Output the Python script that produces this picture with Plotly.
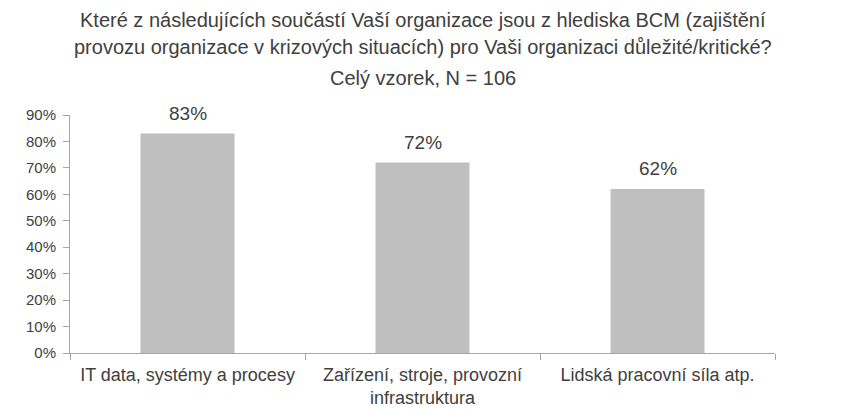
import plotly.graph_objects as go

categories = ["IT data, systémy a procesy", "Zařízení, stroje, provozní<br>infrastruktura", "Lidská pracovní síla atp."]
values = [0.83, 0.72, 0.62]
labels = ["83%", "72%", "62%"]
title_lines = ["Které z následujících součástí Vaší organizace jsou z hlediska BCM (zajištění",
               "provozu organizace v krizových situacích) pro Vaši organizaci důležité/kritické?"]
subtitle = "Celý vzorek, N = 106"

FONT = "Liberation Sans, Arial, sans-serif"
TXT = "#404040"

fig = go.Figure(go.Bar(
    x=categories, y=values,
    marker=dict(color="#bfbfbf", line=dict(width=0)),
    width=0.4,
))

anns = []
for c, v, t in zip(categories, values, labels):
    anns.append(dict(text=t, x=c, y=v, xref="x", yref="y", showarrow=False,
                     yanchor="bottom", yshift=8,
                     font=dict(size=19, color=TXT, family=FONT)))
for line, shift in zip(title_lines, [95, 68]):
    anns.append(dict(text=line, x=0.5, xref="paper", y=1, yref="paper",
                     yshift=shift, showarrow=False, font=dict(size=20, color=TXT, family=FONT),
                     xanchor="center", yanchor="middle"))
anns.append(dict(text=subtitle, x=0.5, xref="paper", y=1, yref="paper",
                 yshift=37, showarrow=False, font=dict(size=20, color=TXT, family=FONT),
                 xanchor="center", yanchor="middle"))

fig.update_layout(
    width=852, height=410,
    margin=dict(l=70, r=77, t=115, b=57),
    paper_bgcolor="white", plot_bgcolor="white",
    font=dict(family=FONT, color=TXT),
    showlegend=False,
    annotations=anns,
)
fig.update_yaxes(range=[0, 0.9], dtick=0.1, tickformat=".0%", showgrid=False,
                 showline=True, linecolor="#a6a6a6", linewidth=1,
                 ticks="outside", ticklen=6, tickcolor="#a6a6a6",
                 tickfont=dict(size=15, color=TXT, family=FONT), zeroline=False,
                 ticklabelstandoff=4, automargin=False)
fig.update_xaxes(showline=True, linecolor="#a6a6a6", linewidth=1,
                 ticks="outside", tickson="boundaries", ticklen=6, tickcolor="#a6a6a6",
                 tickfont=dict(size=18, color=TXT, family=FONT), showgrid=False,
                 automargin=False, ticklabelstandoff=5)

fig.write_html("out.html")
